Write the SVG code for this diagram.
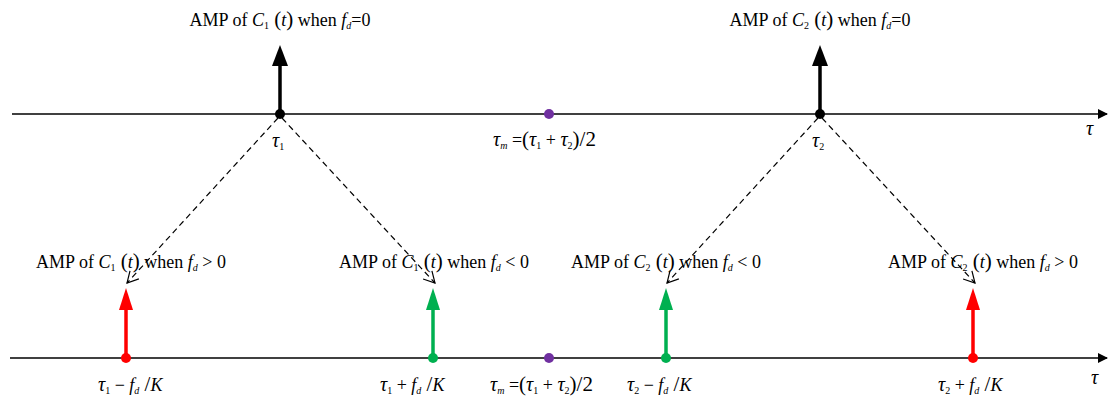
<svg xmlns="http://www.w3.org/2000/svg" width="1108" height="402" viewBox="0 0 1108 402">
<style>
text{font-family:"Liberation Serif","Times New Roman",serif;font-size:18px;fill:#000}
.i{font-style:italic}
.s{font-size:10px}
.p{font-size:21px}
.t{font-size:20px;font-style:italic}
.axis{stroke:#000;stroke-width:1.5;fill:none}
.dash{stroke:#000;stroke-width:1.2;stroke-dasharray:6,4;fill:none}
</style>
<defs>
<marker id="ax" markerWidth="10" markerHeight="10" refX="9" refY="5" orient="auto" markerUnits="userSpaceOnUse"><path d="M0,0 L10,5 L0,10 Z" fill="#000"/></marker>
<marker id="open" markerWidth="14" markerHeight="14" refX="12" refY="7" orient="auto" markerUnits="userSpaceOnUse"><path d="M1,1 L12,7 L1,13" fill="none" stroke="#000" stroke-width="1.2"/></marker>
</defs>

<g id="axes">
<line class="axis" x1="12" y1="114" x2="1107" y2="114" stroke="#404040" marker-end="url(#ax)"/>
<text class="t" x="1086" y="135">τ</text>
<line class="axis" x1="10" y1="358" x2="1107" y2="358" marker-end="url(#ax)"/>
<text class="t" x="1091" y="384">τ</text>
</g>

<g id="connectors">
<line class="dash" x1="278" y1="118" x2="127" y2="283" marker-end="url(#open)"/>
<line class="dash" x1="282" y1="118" x2="435" y2="283" marker-end="url(#open)"/>
<line class="dash" x1="818" y1="118" x2="667" y2="283" marker-end="url(#open)"/>
<line class="dash" x1="822" y1="118" x2="975" y2="283" marker-end="url(#open)"/>
</g>

<g id="c1-zero">
<line x1="280" y1="114" x2="280" y2="64" stroke="#000" stroke-width="3.5"/>
<path d="M272,66 L280,45 L288,66 Z" fill="#000"/>
<circle cx="280" cy="114" r="5" fill="#000"/>
<text x="280" y="26" text-anchor="middle">AMP of <tspan class="i">C</tspan><tspan class="s" dy="3">1</tspan><tspan class="p" dy="-3"> (</tspan><tspan class="i">t</tspan><tspan class="p">)</tspan> when <tspan class="i">f</tspan><tspan class="s i" dy="3">d</tspan><tspan dy="-3">=0</tspan></text>
<text class="t" x="272" y="147">τ<tspan class="s" font-style="normal" dy="3">1</tspan></text>
</g>

<g id="c2-zero">
<line x1="820" y1="114" x2="820" y2="64" stroke="#000" stroke-width="3.5"/>
<path d="M812,66 L820,45 L828,66 Z" fill="#000"/>
<circle cx="820" cy="114" r="5" fill="#000"/>
<text x="820" y="26" text-anchor="middle">AMP of <tspan class="i">C</tspan><tspan class="s" dy="3">2</tspan><tspan class="p" dy="-3"> (</tspan><tspan class="i">t</tspan><tspan class="p">)</tspan> when <tspan class="i">f</tspan><tspan class="s i" dy="3">d</tspan><tspan dy="-3">=0</tspan></text>
<text class="t" x="812" y="147">τ<tspan class="s" font-style="normal" dy="3">2</tspan></text>
</g>

<g id="tm-top">
<circle cx="549" cy="114" r="5" fill="#7030A0"/>
<text x="493" y="146"><tspan class="t">τ</tspan><tspan class="s i" dy="3">m</tspan><tspan dy="-3"> =</tspan><tspan class="p">(</tspan><tspan class="t">τ</tspan><tspan class="s" dy="3">1</tspan><tspan dy="-3"> + </tspan><tspan class="t">τ</tspan><tspan class="s" dy="3">2</tspan><tspan class="p" dy="-3">)/2</tspan></text>
</g>

<g id="c1-pos">
<line x1="126" y1="358" x2="126" y2="308" stroke="#FF0000" stroke-width="3.5"/>
<path d="M119,310 L126,288 L133,310 Z" fill="#FF0000"/>
<circle cx="126" cy="358" r="5" fill="#FF0000"/>
<text x="131" y="268" text-anchor="middle">AMP of <tspan class="i">C</tspan><tspan class="s" dy="3">1</tspan><tspan class="p" dy="-3"> (</tspan><tspan class="i">t</tspan><tspan class="p">)</tspan> when <tspan class="i">f</tspan><tspan class="s i" dy="3">d</tspan><tspan dy="-3"> &gt; 0</tspan></text>
<text x="98" y="391"><tspan class="t">τ</tspan><tspan class="s" dy="3">1</tspan><tspan dy="-3"> − </tspan><tspan class="i">f</tspan><tspan class="s i" dy="3">d</tspan><tspan class="p" dy="-3"> /</tspan><tspan class="i">K</tspan></text>
</g>

<g id="c1-neg">
<line x1="433" y1="358" x2="433" y2="308" stroke="#00B050" stroke-width="3.5"/>
<path d="M426,310 L433,288 L440,310 Z" fill="#00B050"/>
<circle cx="433" cy="358" r="5" fill="#00B050"/>
<text x="434" y="268" text-anchor="middle">AMP of <tspan class="i">C</tspan><tspan class="s" dy="3">1</tspan><tspan class="p" dy="-3"> (</tspan><tspan class="i">t</tspan><tspan class="p">)</tspan> when <tspan class="i">f</tspan><tspan class="s i" dy="3">d</tspan><tspan dy="-3"> &lt; 0</tspan></text>
<text x="380" y="391"><tspan class="t">τ</tspan><tspan class="s" dy="3">1</tspan><tspan dy="-3"> + </tspan><tspan class="i">f</tspan><tspan class="s i" dy="3">d</tspan><tspan class="p" dy="-3"> /</tspan><tspan class="i">K</tspan></text>
</g>

<g id="tm-bottom">
<circle cx="549" cy="358" r="5" fill="#7030A0"/>
<text x="490" y="391"><tspan class="t">τ</tspan><tspan class="s i" dy="3">m</tspan><tspan dy="-3"> =</tspan><tspan class="p">(</tspan><tspan class="t">τ</tspan><tspan class="s" dy="3">1</tspan><tspan dy="-3"> + </tspan><tspan class="t">τ</tspan><tspan class="s" dy="3">2</tspan><tspan class="p" dy="-3">)/2</tspan></text>
</g>

<g id="c2-neg">
<line x1="666" y1="358" x2="666" y2="308" stroke="#00B050" stroke-width="3.5"/>
<path d="M659,310 L666,288 L673,310 Z" fill="#00B050"/>
<circle cx="666" cy="358" r="5" fill="#00B050"/>
<text x="666" y="268" text-anchor="middle">AMP of <tspan class="i">C</tspan><tspan class="s" dy="3">2</tspan><tspan class="p" dy="-3"> (</tspan><tspan class="i">t</tspan><tspan class="p">)</tspan> when <tspan class="i">f</tspan><tspan class="s i" dy="3">d</tspan><tspan dy="-3"> &lt; 0</tspan></text>
<text x="627" y="391"><tspan class="t">τ</tspan><tspan class="s" dy="3">2</tspan><tspan dy="-3"> − </tspan><tspan class="i">f</tspan><tspan class="s i" dy="3">d</tspan><tspan class="p" dy="-3"> /</tspan><tspan class="i">K</tspan></text>
</g>

<g id="c2-pos">
<line x1="973" y1="358" x2="973" y2="308" stroke="#FF0000" stroke-width="3.5"/>
<path d="M966,310 L973,288 L980,310 Z" fill="#FF0000"/>
<circle cx="973" cy="358" r="5" fill="#FF0000"/>
<text x="983" y="268" text-anchor="middle">AMP of <tspan class="i">C</tspan><tspan class="s" dy="3">2</tspan><tspan class="p" dy="-3"> (</tspan><tspan class="i">t</tspan><tspan class="p">)</tspan> when <tspan class="i">f</tspan><tspan class="s i" dy="3">d</tspan><tspan dy="-3"> &gt; 0</tspan></text>
<text x="938" y="391"><tspan class="t">τ</tspan><tspan class="s" dy="3">2</tspan><tspan dy="-3"> + </tspan><tspan class="i">f</tspan><tspan class="s i" dy="3">d</tspan><tspan class="p" dy="-3"> /</tspan><tspan class="i">K</tspan></text>
</g>
</svg>
